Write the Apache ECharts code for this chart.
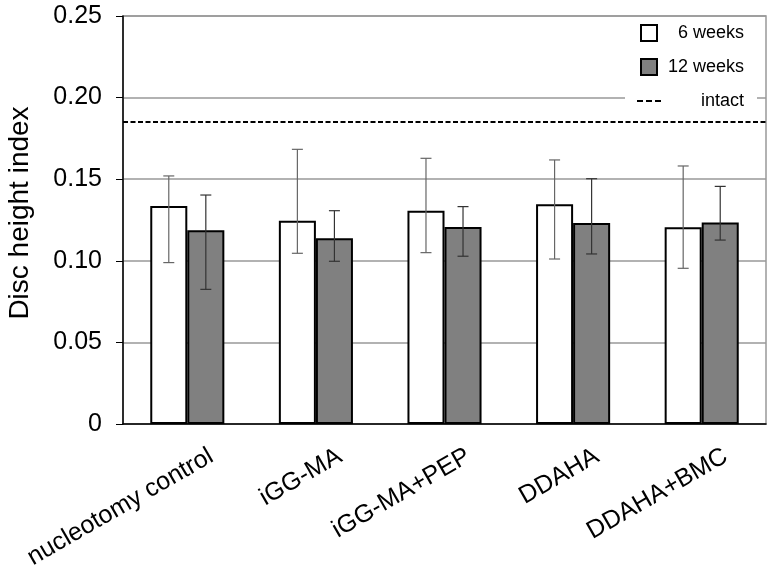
<!DOCTYPE html>
<html>
<head>
<meta charset="utf-8">
<script src="https://cdn.jsdelivr.net/npm/echarts@6/dist/echarts.min.js"></script>
<style>
html,body{margin:0;padding:0;background:#fff;}
#chart{width:774px;height:571px;}
</style>
</head>
<body>
<div id="chart"></div>
<script>
var categories = ['nucleotomy control', 'iGG-MA', 'iGG-MA+PEP', 'DDAHA', 'DDAHA+BMC'];
var seriesNames = ['6 weeks', '12 weeks', 'intact'];
var weeks6 = [0.1336, 0.1246, 0.1307, 0.1346, 0.1205];
var weeks6Low = [0.0989, 0.1046, 0.1050, 0.1011, 0.0954];
var weeks6High = [0.1520, 0.1683, 0.1628, 0.1618, 0.1581];
var weeks12 = [0.1187, 0.1138, 0.1207, 0.1232, 0.1234];
var weeks12Low = [0.0825, 0.0997, 0.1028, 0.1042, 0.1127];
var weeks12High = [0.1403, 0.1307, 0.1332, 0.1503, 0.1456];
var intactValue = 0.185;
var yTicks = [0, 0.05, 0.10, 0.15, 0.20, 0.25];

var FONT = 'Arial, "Liberation Sans", sans-serif';
var BAR_W = 0.288;

function errData(lo, hi) {
  return lo.map(function (v, i) { return [i, v, hi[i]]; });
}
function errRender(side, color) {
  return function (params, api) {
    var x = api.value(0);
    var pLo = api.coord([x, api.value(1)]);
    var pHi = api.coord([x, api.value(2)]);
    var band = api.size([1, 0])[0];
    var off = side * band * BAR_W / 2;
    var cx = pLo[0] + off;
    var cap = 5.5;
    var st = { stroke: color, lineWidth: 1.2 };
    return {
      type: 'group',
      children: [
        { type: 'line', shape: { x1: cx, y1: pLo[1], x2: cx, y2: pHi[1] }, style: st },
        { type: 'line', shape: { x1: cx - cap, y1: pLo[1], x2: cx + cap, y2: pLo[1] }, style: st },
        { type: 'line', shape: { x1: cx - cap, y1: pHi[1], x2: cx + cap, y2: pHi[1] }, style: st }
      ]
    };
  };
}

var chart = echarts.init(document.getElementById('chart'), null, { renderer: 'canvas' });
var sq = 'path://M0,0L16,0L16,16L0,16Z';
var dashIcon = 'path://M0,0H6V2H0Z M9,0H15V2H9Z M18,0H24V2H18Z';
chart.setOption({
  animation: false,
  backgroundColor: '#fff',
  textStyle: { fontFamily: FONT },
  grid: { left: 123, right: 8, top: 16, bottom: 147, show: true, borderColor: '#999', borderWidth: 1.5, containLabel: false, outerBoundsMode: 'none' },
  legend: {
    orient: 'vertical',
    right: 17,
    top: 19,
    padding: [5, 13, 8, 12],
    backgroundColor: '#fff',
    itemWidth: 24,
    itemHeight: 16,
    itemGap: 16,
    symbolKeepAspect: true,
    data: [
      { name: seriesNames[0], icon: sq },
      { name: seriesNames[1], icon: sq },
      { name: seriesNames[2], icon: dashIcon }
    ],
    formatter: function (n) { return '{t|' + n + '}'; },
    textStyle: {
      color: '#000', fontFamily: FONT,
      rich: { t: { width: 78, align: 'right', fontSize: 18, fontFamily: FONT, color: '#000' } }
    }
  },
  xAxis: {
    type: 'category',
    data: categories,
    axisLine: { lineStyle: { color: '#000', width: 1.5 } },
    axisTick: { show: false },
    axisLabel: {
      interval: 0,
      rotate: 30,
      margin: -11,
      formatter: function (v) { return '{a|' + v + '}'; },
      rich: { a: { padding: [96, 0, 0, 0], fontSize: 25, fontFamily: FONT, color: '#000' } },
      color: '#000',
      fontSize: 25,
      fontFamily: FONT
    },
    splitLine: { show: false }
  },
  yAxis: {
    type: 'value',
    min: 0,
    max: 0.25,
    interval: 0.05,
    name: 'Disc height index',
    nameLocation: 'middle',
    nameGap: 89,
    nameTextStyle: { color: '#000', fontSize: 28, fontFamily: FONT, padding: [0, 0, 0, 14] },
    axisLine: { show: true, lineStyle: { color: '#000', width: 1.5 } },
    axisTick: { show: true, inside: false, length: 7, lineStyle: { color: '#000', width: 1 } },
    axisLabel: {
      margin: 21,
      color: '#000',
      fontSize: 25,
      fontFamily: FONT,
      formatter: function (v) {
        for (var i = 0; i < yTicks.length; i++) {
          if (Math.abs(v - yTicks[i]) < 1e-9) return yTicks[i] === 0 ? '0' : yTicks[i].toFixed(2);
        }
        return '';
      }
    },
    splitLine: { show: true, lineStyle: { color: '#999', width: 1.5 } }
  },
  series: [
    {
      name: seriesNames[0], type: 'bar', data: weeks6, barWidth: (BAR_W * 100) + '%', barGap: '0%',
      itemStyle: { color: '#fff', borderColor: '#000', borderWidth: 2 }, z: 2
    },
    {
      name: seriesNames[1], type: 'bar', data: weeks12, barWidth: (BAR_W * 100) + '%', barGap: '0%',
      itemStyle: { color: '#808080', borderColor: '#000', borderWidth: 2 }, z: 2
    },
    {
      name: seriesNames[2], type: 'line', data: [], symbol: 'none',
      itemStyle: { color: '#000' },
      lineStyle: { color: '#000', width: 2, type: [5, 3] },
      markLine: {
        silent: true, symbol: 'none', precision: 4, label: { show: false },
        lineStyle: { color: '#000', width: 2, type: [5, 2.5] },
        data: [{ yAxis: intactValue }]
      },
      z: 3
    },
    {
      type: 'custom', name: 'err6', data: errData(weeks6Low, weeks6High),
      renderItem: errRender(-1, '#666'), encode: { x: 0, y: [1, 2] }, z: 5, silent: true
    },
    {
      type: 'custom', name: 'err12', data: errData(weeks12Low, weeks12High),
      renderItem: errRender(1, '#333'), encode: { x: 0, y: [1, 2] }, z: 5, silent: true
    }
  ]
});
</script>
</body>
</html>
